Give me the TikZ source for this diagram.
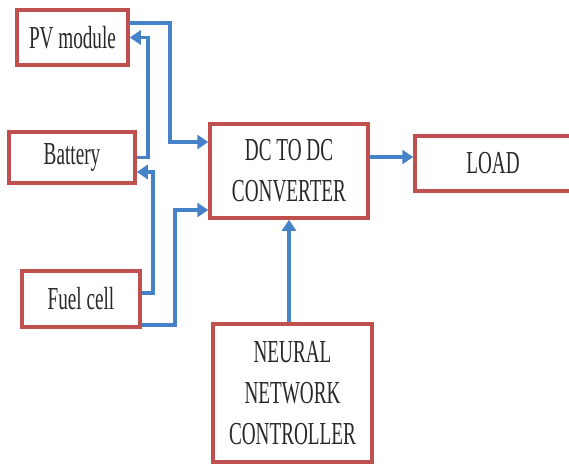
\documentclass[tikz,border=0pt]{standalone}
\usepackage{fontspec}
\setmainfont{Liberation Serif}[FakeStretch=0.6]
\usetikzlibrary{arrows.meta}

\definecolor{boxred}{RGB}{192,80,77}
\definecolor{flowblue}{RGB}{70,130,200}
\definecolor{ink}{RGB}{40,40,40}

\begin{document}
\begin{tikzpicture}[x=1pt, y=-1pt,
	block/.style = {draw=boxred, line width=3.5pt, fill=white, text=ink, align=center,
		font=\fontsize{32}{41}\selectfont, inner sep=0pt},
	flow/.style = {draw=flowblue, line width=3.4pt,
		-{Triangle[length=11pt, width=14pt]}}]
	\useasboundingbox (0,0) rectangle (569,464);
	% sources on the left
	\node[block, minimum width=111pt, minimum height=55pt] (pv) at (72.5,37.5) {PV module};
	\node[block, minimum width=126pt, minimum height=51pt] (bat) at (72,157.5) {Battery};
	\node[block, minimum width=118pt, minimum height=56pt] (fc) at (81,299) {Fuel cell};
	% converter, load and controller
	\node[block, minimum width=158pt, minimum height=94pt] (dc) at (289,171) {DC TO DC\\CONVERTER};
	\node[block, minimum width=156pt, minimum height=55pt] (load) at (493,163.5) {LOAD};
	\node[block, minimum width=159pt, minimum height=138pt] (nn) at (292.5,393) {NEURAL\\NETWORK\\CONTROLLER};
	% connections
	\draw[flow] (pv.east |- 0,23) -- (170,23) |- (dc.west |- 0,142);
	\draw[flow] (bat.east) -- (148,157.5) |- (pv.east);
	\draw[flow] (fc.east |- 0,293) -- (153,293) |- (bat.east |- 0,172);
	\draw[flow] (fc.south east |- 0,325) -- (175,325) |- (dc.west |- 0,210);
	\draw[flow] (dc.east |- 0,157) -- (load.west |- 0,157);
	\draw[flow] (nn.north -| dc.south) -- (dc.south);
\end{tikzpicture}
\end{document}
